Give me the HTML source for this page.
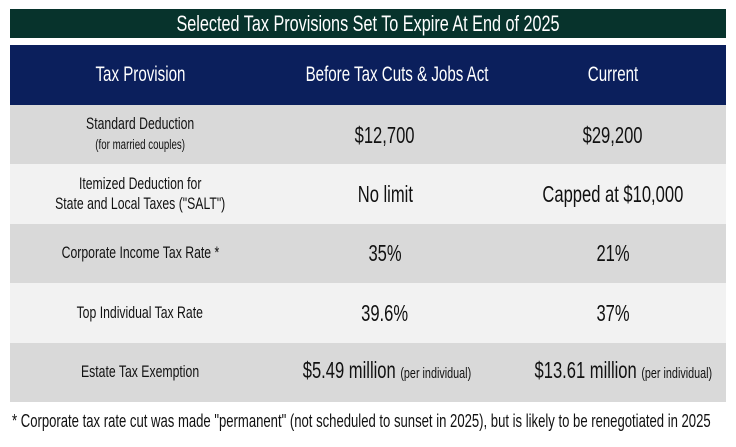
<!DOCTYPE html>
<html><head><meta charset="utf-8"><style>
body{margin:0;width:736px;height:447px;background:#fff;font-family:"Liberation Sans",sans-serif;position:relative;overflow:hidden}
.n{display:inline-block;transform:scaleX(.72);white-space:nowrap}
#title{position:absolute;left:10px;top:9px;width:716px;height:29px;background:#07332c;color:#fff;text-align:center;font-size:22.5px;line-height:29px}
table{position:absolute;left:10px;top:45px;width:716px;border-collapse:collapse;table-layout:fixed}
td,th{text-align:center;padding:0;color:#111}
th{background:#0b1f5c;color:#fff;height:60px;font-weight:normal;font-size:21px}
tr.g td{background:#d9d9d9}
tr.l td{background:#f2f2f2}
td{height:59.4px;font-size:17px;line-height:20px}
td.v{font-size:23px}
small{font-size:13.5px}
#foot{position:absolute;left:12px;top:411px;font-size:18.2px;color:#111}
#foot .n{transform-origin:left}
</style></head><body>
<div id="title"><span class="n">Selected Tax Provisions Set To Expire At End of 2025</span></div>
<table>
<colgroup><col style="width:260px"><col style="width:230px"><col style="width:226px"></colgroup>
<tr><th><span class="n">Tax Provision</span></th><th><span class="n">Before Tax Cuts &amp; Jobs Act</span></th><th><span class="n">Current</span></th></tr>
<tr class="g"><td><span class="n">Standard Deduction<br><small>(for married couples)</small></span></td><td class="v"><span class="n">$12,700</span></td><td class="v"><span class="n">$29,200</span></td></tr>
<tr class="l"><td><span class="n">Itemized Deduction for<br>State and Local Taxes ("SALT")</span></td><td class="v"><span class="n">No limit</span></td><td class="v"><span class="n">Capped at $10,000</span></td></tr>
<tr class="g"><td><span class="n">Corporate Income Tax Rate *</span></td><td class="v"><span class="n">35%</span></td><td class="v"><span class="n">21%</span></td></tr>
<tr class="l"><td><span class="n">Top Individual Tax Rate</span></td><td class="v"><span class="n">39.6%</span></td><td class="v"><span class="n">37%</span></td></tr>
<tr class="g"><td><span class="n">Estate Tax Exemption</span></td><td class="v"><span class="n">$5.49 million <small style="font-size:15px">(per individual)</small></span></td><td class="v"><span class="n">$13.61 million <small style="font-size:15px">(per individual)</small></span></td></tr>
</table>
<div id="foot"><span class="n">* Corporate tax rate cut was made "permanent" (not scheduled to sunset in 2025), but is likely to be renegotiated in 2025</span></div>
</body></html>
